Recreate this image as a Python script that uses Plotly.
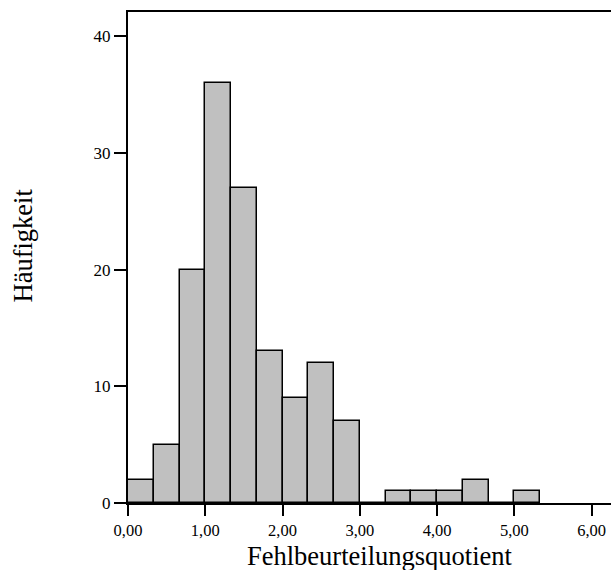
import plotly.graph_objects as go

bin_width = 1/3
bin_starts = [0/3, 1/3, 2/3, 3/3, 4/3, 5/3, 6/3, 7/3, 8/3, 9/3, 10/3, 11/3, 12/3, 13/3, 14/3, 15/3]
counts = [2, 5, 20, 36, 27, 13, 9, 12, 7, 0, 1, 1, 1, 2, 0, 1]
x_ticks = [0, 1, 2, 3, 4, 5, 6]
y_ticks = [0, 10, 20, 30, 40]
x_title = "Fehlbeurteilungsquotient"
y_title = "Häufigkeit"

centers = [s + bin_width / 2 for s in bin_starts]

fig = go.Figure()
fig.add_trace(go.Bar(
    x=centers, y=counts, width=bin_width,
    marker=dict(color="#c0c0c0", line=dict(color="black", width=1.5)),
    showlegend=False,
))

font = "Liberation Serif"
fig.update_layout(
    width=611, height=570,
    margin=dict(l=128, r=0, t=12, b=67),
    plot_bgcolor="white", paper_bgcolor="white",
    separators=", ",
    font=dict(family=font, size=17, color="black"),
    bargap=0,
    xaxis=dict(
        range=[0, 6.25], tickvals=x_ticks, tickformat=".2f",
        showgrid=False, zeroline=False,
        showline=True, linecolor="black", linewidth=2, mirror=True,
        ticks="outside", ticklen=11, tickwidth=2, tickcolor="black",
        tickfont=dict(size=16.5, family=font),
    ),
    yaxis=dict(
        range=[0, 42.09], tickvals=y_ticks,
        showgrid=False, zeroline=False,
        showline=True, linecolor="black", linewidth=2,
        ticks="outside", ticklen=12, tickwidth=2, tickcolor="black",
        tickfont=dict(size=17, family=font),
    ),
    annotations=[
        dict(text=x_title, xref="paper", yref="paper", x=(380 - 128) / 483, y=-(556 - 503) / 491,
             showarrow=False, font=dict(size=26.5, family=font), xanchor="center", yanchor="middle"),
        dict(text=y_title, xref="paper", yref="paper", x=-(128 - 23) / 483, y=(503 - 245.5) / 491,
             showarrow=False, textangle=-90, font=dict(size=26.5, family=font), xanchor="center", yanchor="middle"),
    ],
)

fig.write_html("out.html")
